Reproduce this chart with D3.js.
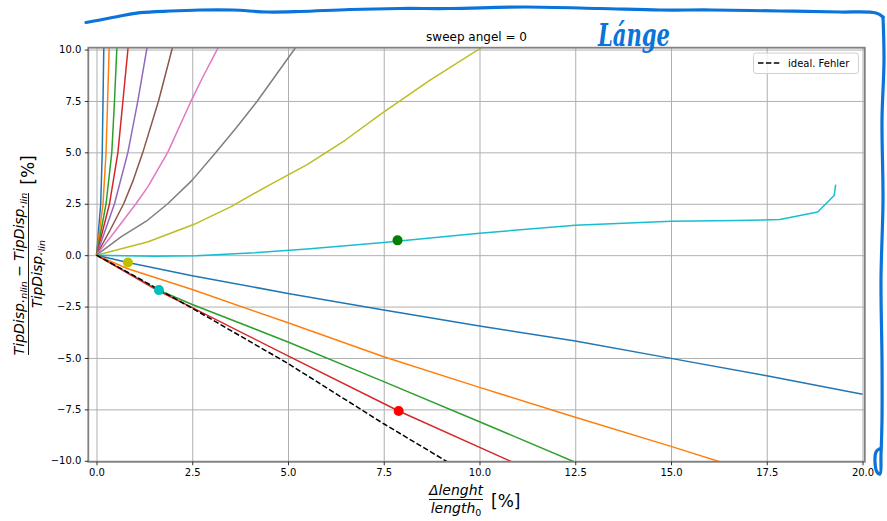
<!DOCTYPE html>
<html>
<head>
<meta charset="utf-8">
<script src="https://cdn.jsdelivr.net/npm/d3@7"></script>
<style>
  body { margin: 0; background: #fff; }
  svg { display: block; font-family: "DejaVu Sans", sans-serif; }
</style>
</head>
<body>
<div id="vis"></div>
<script>
// sweep angel = 0 : relative error of tip displacement vs. change in length

// ticks
const xTicks = [0, 2.5, 5, 7.5, 10, 12.5, 15, 17.5, 20];
const yTicks = [-10, -7.5, -5, -2.5, 0, 2.5, 5, 7.5, 10];

// curves going up (one per load case), [Δlength %, error %]
const up1 = [[0,0],[0.11,2.5],[0.15,5],[0.17,7.5],[0.19,10],[0.2,11]];
const up2 = [[0,0],[0.17,2.5],[0.25,5],[0.29,7.5],[0.33,10],[0.35,11]];
const up3 = [[0,0],[0.25,2.5],[0.4,5],[0.47,7.5],[0.53,10],[0.56,11]];
const up4 = [[0,0],[0.34,2.5],[0.56,5],[0.69,7.5],[0.82,10],[0.87,11]];
const up5 = [[0,0],[0.47,2.5],[0.82,5],[1.08,7.5],[1.31,10],[1.4,11]];
const up6 = [[0,0],[0.35,1.2],[0.71,2.5],[0.95,3.6],[1.21,5],[1.62,7.5],[1.97,10],[2.1,11]];
const up7 = [[0,0],[0.5,1.2],[1.03,2.5],[1.34,3.32],[1.86,5],[2.47,7.5],[2.8,8.75],[3.15,10],[3.3,10.6]];
const up8 = [[0,0],[0.65,0.9],[1.3,1.65],[1.86,2.5],[2.5,3.65],[3.12,5],[3.65,6.2],[4.2,7.5],[4.7,8.8],[5.2,10.1]];
const up9 = [[0,0],[1.35,0.65],[2.55,1.5],[3.5,2.35],[4.45,3.35],[5.5,4.4],[6.5,5.6],[7.45,6.9],[8.7,8.5],[10.1,10.15]];
const flat = [[0,0],[1.5,-0.05],[2.6,-0.03],[4,0.1],[5.5,0.3],[7.5,0.62],[10,1.07],[12.5,1.45],[15,1.65],[16.7,1.68],[17.84,1.73],[18.83,2.1],[19.26,2.9],[19.3,3.43]];

// curves going down
const down1 = [[0,0],[0.82,-0.36],[2.5,-1.0],[5,-1.86],[7.5,-2.67],[10,-3.45],[12.5,-4.17],[15,-5.02],[17.5,-5.87],[20,-6.76]];
const down2 = [[0,0],[0.8,-0.65],[2.5,-1.67],[5,-3.29],[7.5,-4.94],[10,-6.43],[12.5,-7.88],[15,-9.3],[16.4,-10.12]];
const down3 = [[0,0],[1.6,-1.68],[2.5,-2.4],[5,-4.22],[7.5,-6.15],[10,-8.1],[12.6,-10.15]];
const down4 = [[0,0],[1.6,-1.72],[2.5,-2.55],[5,-4.9],[7.89,-7.58],[10.9,-10.1]];

// ideal error (dashed)
const ideal = [[0,0],[1,-1.02],[2.5,-2.58],[5,-5.27],[7.5,-8.2],[9.25,-10.15]];

// single marked points
const dotX = [0.82, 1.63, 7.86, 7.89];
const dotY = [-0.36, -1.7, 0.72, -7.58];
const dotColor = ["#bfbf00", "#00bfbf", "#008000", "#ff0000"];

const curves = [up1, up2, up3, up4, up5, up6, up7, up8, up9, flat, down1, down2, down3, down4];
const tab10 = d3.schemeCategory10;

const width = 887, height = 521;
const plot = {left: 88.3, right: 864.8, top: 47.7, bottom: 461.8};

let x = d3.scaleLinear().domain([-0.214, 20.06]).range([plot.left, plot.right]);
let y = d3.scaleLinear().domain([-10.05, 10.09]).range([plot.bottom, plot.top]);

const svg = d3.select("#vis").append("svg").attr("width", width).attr("height", height);

svg.append("clipPath").attr("id", "clip")
  .append("rect")
  .attr("x", plot.left).attr("y", plot.top)
  .attr("width", plot.right - plot.left).attr("height", plot.bottom - plot.top);

// grid
svg.append("g")
  .attr("transform", `translate(0,${plot.bottom})`)
  .call(d3.axisBottom(x).tickValues(xTicks).tickSize(-(plot.bottom - plot.top)).tickFormat(""))
  .call(g => g.select(".domain").remove())
  .call(g => g.selectAll("line").attr("stroke", "#b0b0b0").attr("stroke-width", 1));
svg.append("g")
  .attr("transform", `translate(${plot.left},0)`)
  .call(d3.axisLeft(y).tickValues(yTicks).tickSize(-(plot.right - plot.left)).tickFormat(""))
  .call(g => g.select(".domain").remove())
  .call(g => g.selectAll("line").attr("stroke", "#b0b0b0").attr("stroke-width", 1));

// curves
let line = d3.line().x(d => x(d[0])).y(d => y(d[1]));
const lines = svg.append("g").attr("clip-path", "url(#clip)");
curves.forEach((c, i) => {
  lines.append("path")
    .attr("d", line(c))
    .attr("fill", "none")
    .attr("stroke", tab10[i % 10])
    .attr("stroke-width", 1.5)
    .attr("stroke-linejoin", "round");
});
lines.append("path")
  .attr("d", line(ideal))
  .attr("fill", "none")
  .attr("stroke", "black")
  .attr("stroke-width", 1.5)
  .attr("stroke-dasharray", "5.5,2.4");

svg.append("g").selectAll("circle")
  .data(dotX)
  .enter().append("circle")
  .attr("cx", d => x(d))
  .attr("cy", (d, i) => y(dotY[i]))
  .attr("r", 5)
  .attr("fill", (d, i) => dotColor[i]);

// frame
svg.append("rect")
  .attr("x", plot.left).attr("y", plot.top)
  .attr("width", plot.right - plot.left).attr("height", plot.bottom - plot.top)
  .attr("fill", "none").attr("stroke", "#808080").attr("stroke-width", 1.8);

// axes
xAxis = g => g
  .attr("transform", `translate(0,${plot.bottom})`)
  .call(d3.axisBottom(x).tickValues(xTicks).tickSize(3.5).tickPadding(3.5).tickFormat(d3.format(".1f")));
yAxis = g => g
  .attr("transform", `translate(${plot.left},0)`)
  .call(d3.axisLeft(y).tickValues(yTicks).tickSize(3.5).tickPadding(3.5).tickFormat(d3.format(".1f")));
[xAxis, yAxis].forEach(a => {
  svg.append("g").call(a)
    .call(g => g.select(".domain").remove())
    .call(g => g.selectAll("text").attr("font-size", 10).attr("font-family", "DejaVu Sans").attr("fill", "#000"))
    .call(g => g.selectAll("line").attr("stroke", "#000").attr("stroke-width", 0.8));
});

// title
svg.append("text")
  .attr("x", (plot.left + plot.right) / 2).attr("y", 41)
  .attr("text-anchor", "middle").attr("font-size", 12)
  .text("sweep angel = 0");

// legend
const leg = svg.append("g");
leg.append("rect")
  .attr("x", 753.5).attr("y", 53).attr("width", 105).attr("height", 20.5)
  .attr("rx", 2.5).attr("fill", "white").attr("fill-opacity", 0.8)
  .attr("stroke", "#d0d0d0").attr("stroke-width", 1);
leg.append("line")
  .attr("x1", 758).attr("x2", 780).attr("y1", 63).attr("y2", 63)
  .attr("stroke", "black").attr("stroke-width", 1.5).attr("stroke-dasharray", "5.5,2.4");
leg.append("text")
  .attr("x", 788).attr("y", 67).attr("font-size", 10)
  .text("ideal. Fehler");

// y label (fraction, rotated)
const yl = svg.append("g").attr("transform", "translate(28.5,0) rotate(-90)");
const num = yl.append("text")
  .attr("x", -274).attr("y", -4.5).attr("text-anchor", "middle").attr("font-size", 14);
num.append("tspan").attr("font-style", "italic").text("TipDisp.");
num.append("tspan").attr("font-style", "italic").attr("font-size", 9.5).attr("dy", 3).text("nlin");
num.append("tspan").attr("dy", -3).text(" \u2212 ");
num.append("tspan").attr("font-style", "italic").text("TipDisp.");
num.append("tspan").attr("font-style", "italic").attr("font-size", 9.5).attr("dy", 3).text("lin");
yl.append("line")
  .attr("x1", -355).attr("x2", -193).attr("y1", 0).attr("y2", 0)
  .attr("stroke", "black").attr("stroke-width", 0.9);
const den = yl.append("text")
  .attr("x", -274).attr("y", 13).attr("text-anchor", "middle").attr("font-size", 14);
den.append("tspan").attr("font-style", "italic").text("TipDisp.");
den.append("tspan").attr("font-style", "italic").attr("font-size", 9.5).attr("dy", 3).text("lin");
yl.append("text")
  .attr("x", -170).attr("y", 5.5).attr("text-anchor", "middle").attr("font-size", 17)
  .text("[%]");

// x label (fraction)
svg.append("text")
  .attr("x", 456).attr("y", 495).attr("text-anchor", "middle")
  .attr("font-size", 14).attr("font-style", "italic")
  .text("\u0394lenght");
svg.append("line")
  .attr("x1", 429).attr("x2", 483).attr("y1", 499.5).attr("y2", 499.5)
  .attr("stroke", "black").attr("stroke-width", 0.9);
const xden = svg.append("text")
  .attr("x", 456).attr("y", 513).attr("text-anchor", "middle").attr("font-size", 14);
xden.append("tspan").attr("font-style", "italic").text("length");
xden.append("tspan").attr("font-size", 9.5).attr("dy", 3).text("0");
svg.append("text")
  .attr("x", 491).attr("y", 507).attr("font-size", 17)
  .text("[%]");

// hand-drawn annotation in blue
const pen = "#0a74da";
const topStroke = [[86,22.5],[100,20],[120,16],[140,12.7],[170,11],[200,10],[233,10],[267,12],[300,11.5],[350,9.5],[400,8.5],[450,8.5],[525,7],[600,8.5],[660,10],[712,10],[780,11],[840,12],[876,13],[883,17]];
const rightStroke = [[883,17],[884,60],[882,120],[883,200],[881,280],[882,360],[882,420],[881,455],[880,474],[877,472],[875,462],[876,452],[879,449]];
const handLine = d3.line().curve(d3.curveCatmullRom);
[topStroke, rightStroke].forEach(s => {
  svg.append("path").attr("d", handLine(s))
    .attr("fill", "none").attr("stroke", pen).attr("stroke-width", 3.2)
    .attr("stroke-linecap", "round").attr("stroke-linejoin", "round");
});
svg.append("text")
  .attr("x", 598).attr("y", 46)
  .attr("font-family", "DejaVu Serif").attr("font-style", "italic").attr("font-weight", "bold")
  .attr("font-size", 32).attr("fill", pen)
  .attr("textLength", 72).attr("lengthAdjust", "spacingAndGlyphs")
  .text("L\u00e1nge");
</script>
</body>
</html>
